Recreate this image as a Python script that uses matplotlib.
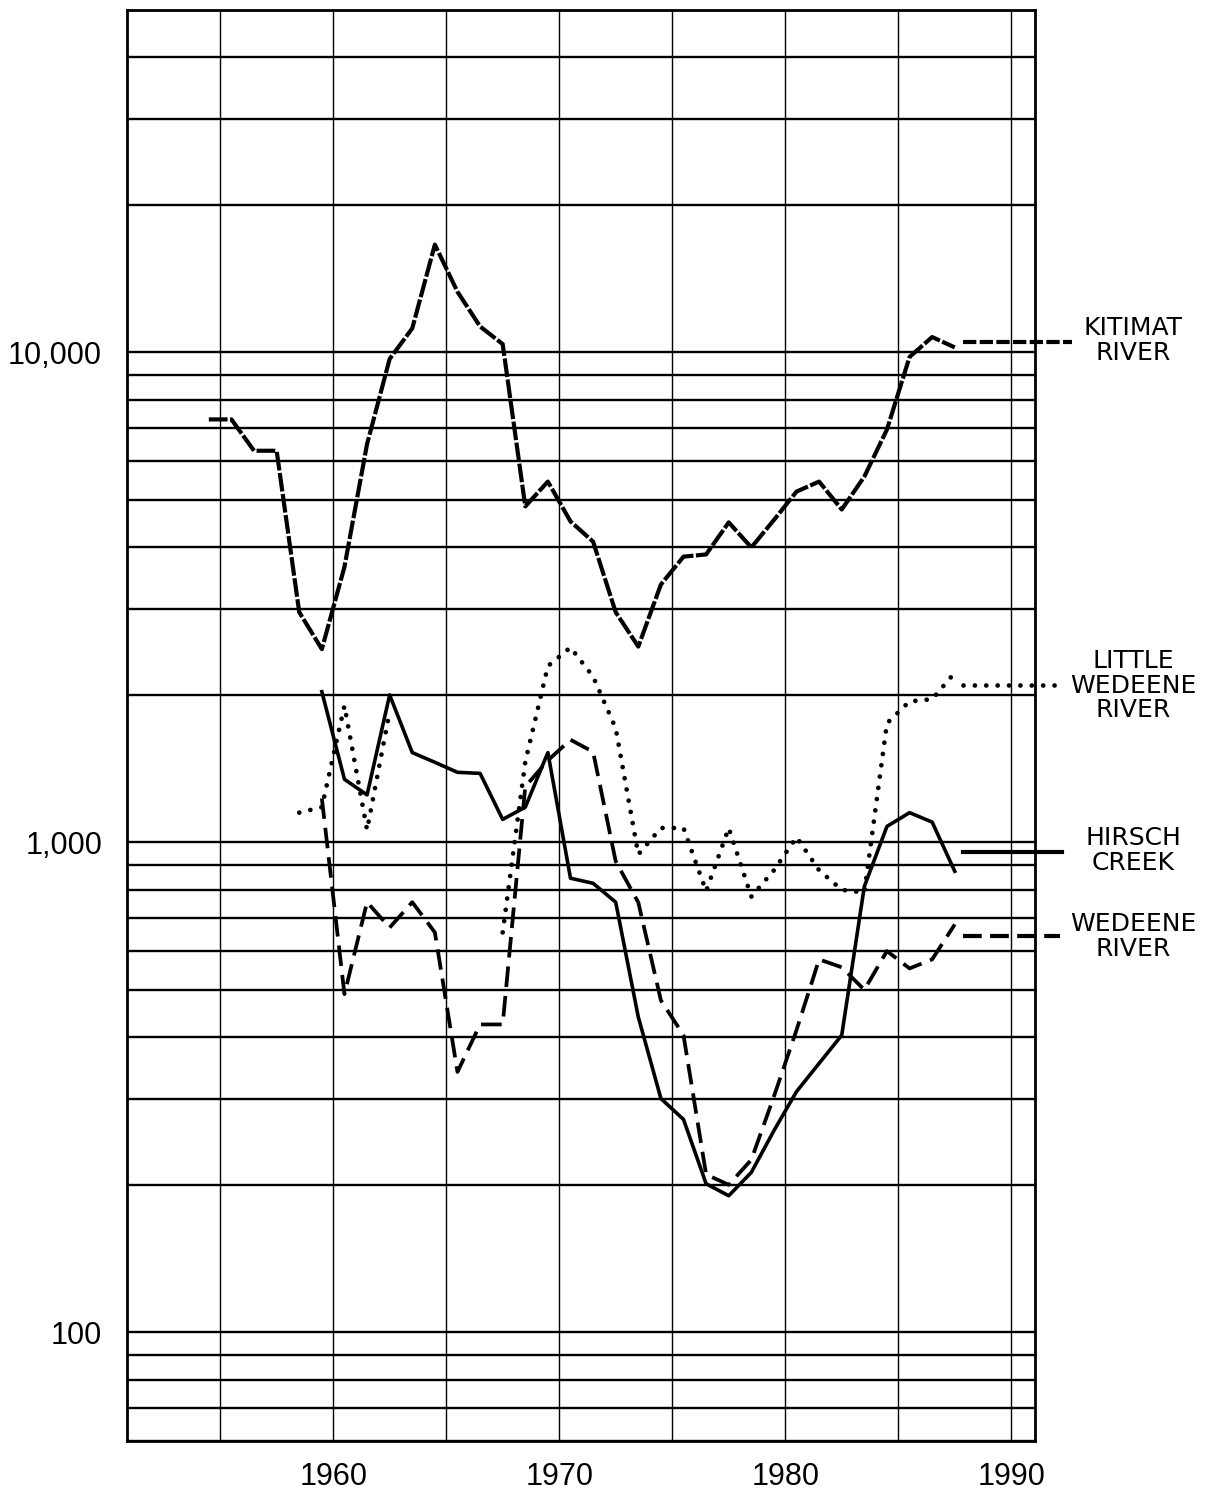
import numpy as np
import matplotlib
matplotlib.use("Agg")
import matplotlib.pyplot as plt
import matplotlib.transforms as mtransforms
from matplotlib.ticker import LogLocator, NullFormatter, FixedLocator, FixedFormatter

nan = np.nan

# ---------------- data ----------------
kitimat_years = list(range(1954, 1988))
kitimat = [7300, 7300, 6300, 6300, 2950, 2480, 3650, 6500, 9700, 11200,
           16600, 13300, 11300, 10400, 4850, 5450, 4520, 4110, 2950, 2510,
           3360, 3830, 3870, 4500, 4000, 4550, 5200, 5450, 4780, 5580,
           6960, 9790, 10750, 10240]

little_years = list(range(1958, 1988))
little_wedeene = [1150, 1180, 1900, 1060, 1850, nan, nan, nan, nan, 655,
                  1460, 2290, 2500, 2180, 1710, 945, 1070, 1070, 795, 1070,
                  775, 877, 1025, 877, 800, 790, 1750, 1940, 1960, 2220]

hirsch_years = list(range(1959, 1988))
hirsch = [2030, 1345, 1250, 2000, 1525, 1457, 1390, 1383, 1114, 1180,
          1525, 845, 825, 755, 440, 300, 272, 201, 190, 212,
          258, 310, 354, 404, 813, 1078, 1150, 1100, 873]

wedeene_years = list(range(1959, 1988))
wedeene = [1230, 490, 755, 670, 755, 655, 340, 425, 425, 1300,
           1470, 1620, 1530, 915, 754, 476, 404, 210, 200, 225,
           303, 414, 577, 556, 500, 600, 553, 577, 680]

x_major = [1960, 1970, 1980, 1990]
x_minor = [1955, 1965, 1975, 1985]
x_labels = ["1960", "1970", "1980", "1990"]
y_major = [100, 1000, 10000]
y_labels = ["100", "1,000", "10,000"]

names = ["KITIMAT\nRIVER", "LITTLE\nWEDEENE\nRIVER", "HIRSCH\nCREEK", "WEDEENE\nRIVER"]

# ---------------- figure ----------------
W, H = 1217, 1493
fig = plt.figure(figsize=(W / 100, H / 100), dpi=100)
ax = fig.add_axes([127 / W, 1 - 1441 / H, (1035 - 127) / W, (1441 - 10) / H])
ax.set_yscale("log")
ax.set_xlim(1950.88, 1991.05)
ax.set_ylim(60, 50000)

# grid
ax.xaxis.set_major_locator(FixedLocator(x_major))
ax.xaxis.set_major_formatter(FixedFormatter(x_labels))
ax.xaxis.set_minor_locator(FixedLocator(x_minor))
ax.yaxis.set_major_locator(FixedLocator(y_major))
ax.yaxis.set_major_formatter(FixedFormatter(y_labels))
ax.yaxis.set_minor_locator(LogLocator(base=10, subs=np.arange(2, 10)))
ax.yaxis.set_minor_formatter(NullFormatter())
ax.grid(which="both", axis="x", color="black", lw=1.0, zorder=1)
ax.grid(which="both", axis="y", color="black", lw=1.7, zorder=1)
ax.set_axisbelow(True)
ax.tick_params(which="both", length=0)
ax.tick_params(axis="x", pad=15, labelsize=22)
ax.tick_params(axis="y", pad=18, labelsize=22)
for lab in ax.get_xticklabels() + ax.get_yticklabels():
    lab.set_fontfamily(["Liberation Sans", "DejaVu Sans"])
for sp in ax.spines.values():
    sp.set_linewidth(2.0)
    sp.set_color("black")

# series (points plotted at mid-year)
def mid(years):
    return np.array(years, dtype=float) + 0.5

ax.plot(mid(kitimat_years), kitimat, color="black", lw=3.0,
        dashes=(4.5, 0.6), zorder=3)
ax.plot(mid(little_years), little_wedeene, color="black", lw=3.4,
        dashes=(0.01, 2.4), dash_capstyle="round", zorder=3)
ax.plot(mid(hirsch_years), hirsch, color="black", lw=2.6, zorder=3)
ax.plot(mid(wedeene_years), wedeene, color="black", lw=2.7,
        dashes=(5.5, 2.4), zorder=3)

# right-hand labels with key lines
trans = mtransforms.blended_transform_factory(ax.transAxes, ax.transData)
ax.plot([0.921, 1.041], [10500, 10500], transform=trans, clip_on=False,
        color="black", lw=3.0, dashes=(3.2, 0.8), zorder=3)
ax.plot([0.921, 1.022], [2100, 2100], transform=trans, clip_on=False,
        color="black", lw=3.4, dashes=(0.01, 2.4), dash_capstyle="round", zorder=3)
ax.plot([0.921, 1.030], [955, 955], transform=trans, clip_on=False,
        color="black", lw=3.0, zorder=3)
ax.plot([0.921, 1.027], [645, 645], transform=trans, clip_on=False,
        color="black", lw=3.0, dashes=(4.5, 2.0), zorder=3)

label_y = [10580, 2090, 963, 643]
for name, yv in zip(names, label_y):
    ax.text(1.108, yv, name, transform=trans, ha="center", va="center",
            fontsize=18, linespacing=1.05, family=["DejaVu Sans"])

fig.savefig("out.png", dpi=100)
